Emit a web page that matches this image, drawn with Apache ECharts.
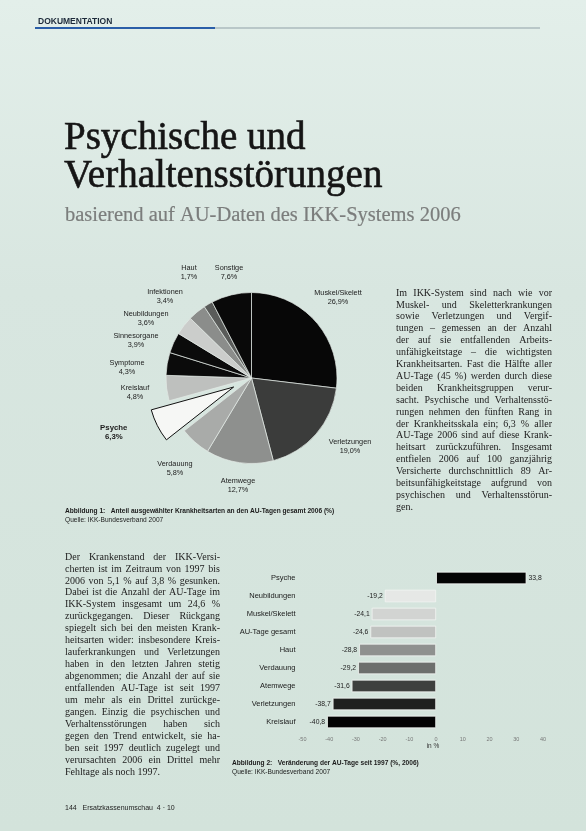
<!DOCTYPE html>
<html><head><meta charset="utf-8">
<script src="https://cdn.jsdelivr.net/npm/echarts/dist/echarts.min.js"></script>
<style>html,body{margin:0;padding:0;background:#dae7e1}#c{width:586px;height:831px}</style>
</head><body><div id="c"></div>
<script>
// ---------- data ----------
const pieNames = ['Muskel/Skelett','Verletzungen','Atemwege','Verdauung','Psyche','Kreislauf','Symptome','Sinnesorgane','Neubildungen','Infektionen','Haut','Sonstige'];
const pieValues = [26.9, 19.0, 12.7, 5.8, 6.3, 4.8, 4.3, 3.9, 3.6, 3.4, 1.7, 7.6];
const barCategories = ['Psyche','Neubildungen','Muskel/Skelett','AU-Tage gesamt','Haut','Verdauung','Atemwege','Verletzungen','Kreislauf'];
const barValues = [33.8, -19.2, -24.1, -24.6, -28.8, -29.2, -31.6, -38.7, -40.8];
const xAxisMin = -50, xAxisMax = 40, xAxisStep = 10;

// ---------- styles ----------
const pieColors = ['#070707','#3b3c3b','#8e908e','#a9aba9','#f6f7f5','#bec0be','#0b0b0b','#0b0b0b','#cbcdcb','#8b8d8b','#5a5c5a','#090909'];
const barColors = ['#040404','#e6e8e6','#d2d4d2','#c0c2c0','#8f918f','#6d6f6d','#3e403e','#1f201f','#030303'];
const pieLabelPos = [[338,297],[350,446],[238,485],[175,468],[85,438],[135,392],[127,367],[136,340],[146,318],[165,296],[189,272],[229,272]];

const SANS = '"Liberation Sans", Arial, sans-serif';
const SERIF = '"Liberation Serif", "Times New Roman", serif';

const leftCol = [
 'Der Krankenstand der IKK-Versi-',
 'cherten ist im Zeitraum von 1997 bis',
 '2006 von 5,1 % auf 3,8 % gesunken.',
 'Dabei ist die Anzahl der AU-Tage im',
 'IKK-System insgesamt um 24,6 %',
 'zurückgegangen. Dieser Rückgang',
 'spiegelt sich bei den meisten Krank-',
 'heitsarten wider: insbesondere Kreis-',
 'lauferkrankungen und Verletzungen',
 'haben in den letzten Jahren stetig',
 'abgenommen; die Anzahl der auf sie',
 'entfallenden AU-Tage ist seit 1997',
 'um mehr als ein Drittel zurückge-',
 'gangen. Einzig die psychischen und',
 'Verhaltensstörungen haben sich',
 'gegen den Trend entwickelt, sie ha-',
 'ben seit 1997 deutlich zugelegt und',
 'verursachten 2006 ein Drittel mehr',
 'Fehltage als noch 1997.'
];
const rightCol = [
 'Im IKK-System sind nach wie vor',
 'Muskel- und Skeletterkrankungen',
 'sowie Verletzungen und Vergif-',
 'tungen – gemessen an der Anzahl',
 'der auf sie entfallenden Arbeits-',
 'unfähigkeitstage – die wichtigsten',
 'Krankheitsarten. Fast die Hälfte aller',
 'AU-Tage (45 %) werden durch diese',
 'beiden Krankheitsgruppen verur-',
 'sacht. Psychische und Verhaltensstö-',
 'rungen nehmen den fünften Rang in',
 'der Krankheitsskala ein; 6,3 % aller',
 'AU-Tage 2006 sind auf diese Krank-',
 'heitsart zurückzuführen. Insgesamt',
 'entfielen 2006 auf 100 ganzjährig',
 'Versicherte durchschnittlich 89 Ar-',
 'beitsunfähigkeitstage aufgrund von',
 'psychischen und Verhaltensstörun-',
 'gen.'
];

const fmt = v => v.toFixed(1).replace('.', ',');

// ---------- text helpers ----------
const mctx = document.createElement('canvas').getContext('2d');
function measure(t, font){ mctx.font = font; return mctx.measureText(t).width; }
function txt(t, x, y, font, fill, align, strokeW){
  const st = {text:t, x:x, y:y, font:font, fill:fill||'#1b1b1b',
    align:align||'left', verticalAlign:'middle', textAlign:align||'left', textVerticalAlign:'middle'};
  if(strokeW){ st.stroke = fill; st.lineWidth = strokeW; }
  return {type:'text', silent:true, style:st};
}
function column(lines, x0, y0, w, lh, size, lastIdx){
  let fs = size;
  lines.forEach((ln,i)=>{ if(i!==lastIdx){ const nw = measure(ln, fs+'px '+SERIF); if(nw > w - 2) fs = fs*(w-2)/nw; }});
  const font = fs.toFixed(2)+'px '+SERIF;
  const els = [];
  lines.forEach((ln,i)=>{
    const y = y0 + i*lh;
    const words = ln.split(' ');
    if(i===lastIdx || words.length<2){ els.push(txt(ln,x0,y,font,'#222')); return; }
    const ws = words.map(wd=>measure(wd,font));
    const total = ws.reduce((a,b)=>a+b,0);
    const gap = (w-total)/(words.length-1);
    let x = x0;
    words.forEach((wd,k)=>{ els.push(txt(wd,x,y,font,'#222')); x += ws[k]+gap; });
  });
  return els;
}

const graphics = [
  // header
  txt('DOKUMENTATION', 38, 22, 'bold 8.5px '+SANS, '#1d2a3a'),
  {type:'rect', silent:true, shape:{x:35,y:27,width:180,height:2}, style:{fill:'#2a5ea8'}},
  {type:'rect', silent:true, shape:{x:215,y:27.6,width:325,height:0.8}, style:{fill:'#8fa0a8'}},
  // title
  txt('Psychische und', 64, 139, '39px '+SERIF, '#151515', 'left', 0.6),
  txt('Verhaltensstörungen', 64, 177, '39px '+SERIF, '#151515', 'left', 0.6),
  txt('basierend auf AU-Daten des IKK-Systems 2006', 65, 216, '20.5px '+SERIF, '#7b7d7c', 'left', 0.2),
  // captions
  txt('Abbildung 1:   Anteil ausgewählter Krankheitsarten an den AU-Tagen gesamt 2006 (%)', 65, 511, 'bold 6.6px '+SANS, '#1b1b1b'),
  txt('Quelle: IKK-Bundesverband 2007', 65, 520, '6.6px '+SANS, '#1b1b1b'),
  txt('Abbildung 2:   Veränderung der AU-Tage seit 1997 (%, 2006)', 232, 763, 'bold 6.6px '+SANS, '#1b1b1b'),
  txt('Quelle: IKK-Bundesverband 2007', 232, 772, '6.6px '+SANS, '#1b1b1b'),
  txt('in %', 433, 746, '6.5px '+SANS, '#333', 'center'),
  // footer
  txt('144   Ersatzkassenumschau  4 · 10', 65, 808, '7px '+SANS, '#222')
].concat(column(leftCol, 65, 557, 155, 11.95, 10, leftCol.length-1))
 .concat(column(rightCol, 396, 293, 156, 11.9, 10, rightCol.length-1));

// ---------- chart ----------
const chart = echarts.init(document.getElementById('c'), null, {renderer:'canvas'});
chart.setOption({
  animation:false,
  backgroundColor:{type:'linear',x:0,y:0,x2:0,y2:1,colorStops:[
    {offset:0,color:'#e3efea'},{offset:0.35,color:'#d8e6e0'},{offset:1,color:'#d3e3db'}]},
  graphic: graphics,
  grid:{left:302.5, width:240.5, top:569, height:162},
  xAxis:{type:'value', min:xAxisMin, max:xAxisMax, interval:xAxisStep,
    axisLine:{show:false}, axisTick:{show:false}, splitLine:{show:false},
    axisLabel:{fontSize:5.5, color:'#777', fontFamily:SANS, margin:5}},
  yAxis:{type:'category', inverse:true, data:barCategories,
    axisLine:{show:false}, axisTick:{show:false},
    axisLabel:{fontSize:7.5, color:'#1b1b1b', fontFamily:SANS, margin:7}},
  series:[
    {type:'pie', center:[251.5,378], radius:85.5, startAngle:90, clockwise:true,
     selectedMode:'single', selectedOffset:20, emphasis:{disabled:true}, silent:true,
     labelLine:{show:false},
     label:{show:true, position:'outside', fontSize:7.3, lineHeight:9, color:'#1b1b1b', fontFamily:SANS,
       formatter:p=>p.name+'\n'+fmt(p.value)+'%'},
     labelLayout:p=>({x:pieLabelPos[p.dataIndex][0], y:pieLabelPos[p.dataIndex][1], align:'center', verticalAlign:'middle'}),
     data:pieNames.map((n,i)=>({name:n, value:pieValues[i], selected:n==='Psyche',
       itemStyle:{color:pieColors[i], borderColor:n==='Psyche'?'#111':'#e4ebe7', borderWidth:n==='Psyche'?1:0.7},
       label:n==='Psyche'?{fontWeight:'bold', fontSize:7.8}:{}}))},
    {type:'bar', barWidth:12.5, silent:true,
     data:barValues.map((v,i)=>({value:v, itemStyle:{color:barColors[i], borderColor:'#f2f5f3', borderWidth:0.8},
       label:{show:true, position:v<0?'left':'right', distance:2, fontSize:6.8, color:'#222', fontFamily:SANS,
         formatter:p=>fmt(p.value)}}))}
  ]
});
</script></body></html>
